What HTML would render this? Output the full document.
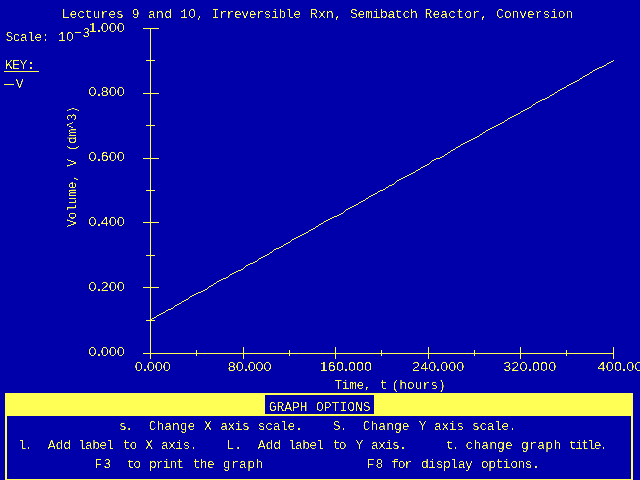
<!DOCTYPE html>
<html><head><meta charset="utf-8"><title>POLYMATH Graph</title>
<style>
html,body{margin:0;padding:0;background:#0000AA;width:640px;height:480px;overflow:hidden}
svg{display:block}
text{font-family:"Liberation Mono", "DejaVu Sans Mono", monospace;font-size:13px;fill:#FFFF55;white-space:pre}
text.n{font-family:"Liberation Sans", "DejaVu Sans", sans-serif;font-size:12.5px}
tspan.z{font-family:"Liberation Sans", "DejaVu Sans", sans-serif}
</style></head><body>
<svg width="640" height="480" viewBox="0 0 640 480">
<defs><filter id="px" filterUnits="userSpaceOnUse" x="0" y="0" width="640" height="480" color-interpolation-filters="sRGB"><feComponentTransfer><feFuncA type="table" tableValues="0 0 0 0 0 0 0.5 1 1 1 1"/></feComponentTransfer></filter></defs>
<rect x="0" y="0" width="640" height="480" fill="#0000AA"/>
<g>
<rect x="5" y="393" width="628" height="87" fill="#FFFF55"/>
<rect x="7" y="416" width="624" height="63" fill="#0000AA"/>
<rect x="265" y="395" width="109" height="19" fill="#0000AA"/>
<g fill="#FFFF55" shape-rendering="crispEdges">
<rect x="150" y="28" width="1" height="331"/>
<rect x="143" y="28" width="16" height="1"/>
<rect x="143" y="93" width="16" height="1"/>
<rect x="143" y="158" width="16" height="1"/>
<rect x="143" y="222" width="16" height="1"/>
<rect x="143" y="287" width="16" height="1"/>
<rect x="146" y="60" width="9" height="1"/>
<rect x="146" y="125" width="9" height="1"/>
<rect x="146" y="190" width="9" height="1"/>
<rect x="146" y="255" width="9" height="1"/>
<rect x="146" y="320" width="9" height="1"/>
<rect x="143" y="353" width="471" height="1"/>
<rect x="243" y="347" width="1" height="12"/>
<rect x="335" y="347" width="1" height="12"/>
<rect x="428" y="347" width="1" height="12"/>
<rect x="520" y="347" width="1" height="12"/>
<rect x="613" y="347" width="1" height="12"/>
<rect x="196" y="350" width="1" height="6"/>
<rect x="289" y="350" width="1" height="6"/>
<rect x="381" y="350" width="1" height="6"/>
<rect x="474" y="350" width="1" height="6"/>
<rect x="566" y="350" width="1" height="6"/>
<rect x="4" y="71" width="35" height="1"/>
<rect x="4" y="84" width="10" height="1"/>
</g>
<g fill="#FFFF55" shape-rendering="crispEdges"><rect x="151" y="319" width="1" height="1"/><rect x="152" y="318" width="2" height="1"/><rect x="154" y="317" width="2" height="1"/><rect x="156" y="316" width="1" height="1"/><rect x="157" y="315" width="2" height="1"/><rect x="159" y="314" width="2" height="1"/><rect x="161" y="313" width="2" height="1"/><rect x="163" y="312" width="2" height="1"/><rect x="165" y="311" width="1" height="1"/><rect x="166" y="310" width="2" height="1"/><rect x="168" y="309" width="3" height="1"/><rect x="171" y="308" width="2" height="1"/><rect x="173" y="307" width="1" height="1"/><rect x="174" y="306" width="1" height="1"/><rect x="175" y="305" width="2" height="1"/><rect x="177" y="304" width="2" height="1"/><rect x="179" y="303" width="2" height="1"/><rect x="181" y="302" width="1" height="1"/><rect x="182" y="301" width="2" height="1"/><rect x="184" y="300" width="2" height="1"/><rect x="186" y="299" width="2" height="1"/><rect x="188" y="298" width="1" height="1"/><rect x="189" y="297" width="1" height="1"/><rect x="190" y="296" width="2" height="1"/><rect x="192" y="295" width="2" height="1"/><rect x="194" y="294" width="2" height="1"/><rect x="196" y="293" width="2" height="1"/><rect x="198" y="292" width="3" height="1"/><rect x="201" y="291" width="2" height="1"/><rect x="203" y="290" width="2" height="1"/><rect x="205" y="289" width="2" height="1"/><rect x="207" y="288" width="1" height="1"/><rect x="208" y="287" width="1" height="1"/><rect x="209" y="286" width="2" height="1"/><rect x="211" y="285" width="2" height="1"/><rect x="213" y="284" width="1" height="1"/><rect x="214" y="283" width="2" height="1"/><rect x="216" y="282" width="1" height="1"/><rect x="217" y="281" width="2" height="1"/><rect x="219" y="280" width="2" height="1"/><rect x="221" y="279" width="2" height="1"/><rect x="223" y="278" width="3" height="1"/><rect x="226" y="277" width="2" height="1"/><rect x="228" y="276" width="1" height="1"/><rect x="229" y="275" width="1" height="1"/><rect x="230" y="274" width="2" height="1"/><rect x="232" y="273" width="2" height="1"/><rect x="234" y="272" width="2" height="1"/><rect x="236" y="271" width="2" height="1"/><rect x="238" y="270" width="3" height="1"/><rect x="241" y="269" width="2" height="1"/><rect x="243" y="268" width="1" height="1"/><rect x="244" y="267" width="1" height="1"/><rect x="245" y="266" width="1" height="1"/><rect x="246" y="265" width="2" height="1"/><rect x="248" y="264" width="2" height="1"/><rect x="250" y="263" width="3" height="1"/><rect x="253" y="262" width="2" height="1"/><rect x="255" y="261" width="2" height="1"/><rect x="257" y="260" width="1" height="1"/><rect x="258" y="259" width="1" height="1"/><rect x="259" y="258" width="2" height="1"/><rect x="261" y="257" width="2" height="1"/><rect x="263" y="256" width="2" height="1"/><rect x="265" y="255" width="2" height="1"/><rect x="267" y="254" width="2" height="1"/><rect x="269" y="253" width="1" height="1"/><rect x="270" y="252" width="2" height="1"/><rect x="272" y="251" width="1" height="1"/><rect x="273" y="250" width="1" height="1"/><rect x="274" y="249" width="2" height="1"/><rect x="276" y="248" width="3" height="1"/><rect x="279" y="247" width="2" height="1"/><rect x="281" y="246" width="2" height="1"/><rect x="283" y="245" width="1" height="1"/><rect x="284" y="244" width="2" height="1"/><rect x="286" y="243" width="2" height="1"/><rect x="288" y="242" width="2" height="1"/><rect x="290" y="241" width="1" height="1"/><rect x="291" y="240" width="1" height="1"/><rect x="292" y="239" width="2" height="1"/><rect x="294" y="238" width="2" height="1"/><rect x="296" y="237" width="2" height="1"/><rect x="298" y="236" width="2" height="1"/><rect x="300" y="235" width="2" height="1"/><rect x="302" y="234" width="2" height="1"/><rect x="304" y="233" width="2" height="1"/><rect x="306" y="232" width="2" height="1"/><rect x="308" y="231" width="1" height="1"/><rect x="309" y="230" width="2" height="1"/><rect x="311" y="229" width="2" height="1"/><rect x="313" y="228" width="2" height="1"/><rect x="315" y="227" width="1" height="1"/><rect x="316" y="226" width="2" height="1"/><rect x="318" y="225" width="1" height="1"/><rect x="319" y="224" width="2" height="1"/><rect x="321" y="223" width="2" height="1"/><rect x="323" y="222" width="1" height="1"/><rect x="324" y="221" width="2" height="1"/><rect x="326" y="220" width="2" height="1"/><rect x="328" y="219" width="2" height="1"/><rect x="330" y="218" width="2" height="1"/><rect x="332" y="217" width="2" height="1"/><rect x="334" y="216" width="3" height="1"/><rect x="337" y="215" width="2" height="1"/><rect x="339" y="214" width="2" height="1"/><rect x="341" y="213" width="2" height="1"/><rect x="343" y="212" width="1" height="1"/><rect x="344" y="211" width="1" height="1"/><rect x="345" y="210" width="1" height="1"/><rect x="346" y="209" width="2" height="1"/><rect x="348" y="208" width="2" height="1"/><rect x="350" y="207" width="2" height="1"/><rect x="352" y="206" width="2" height="1"/><rect x="354" y="205" width="2" height="1"/><rect x="356" y="204" width="2" height="1"/><rect x="358" y="203" width="1" height="1"/><rect x="359" y="202" width="2" height="1"/><rect x="361" y="201" width="2" height="1"/><rect x="363" y="200" width="2" height="1"/><rect x="365" y="199" width="1" height="1"/><rect x="366" y="198" width="2" height="1"/><rect x="368" y="197" width="1" height="1"/><rect x="369" y="196" width="2" height="1"/><rect x="371" y="195" width="2" height="1"/><rect x="373" y="194" width="2" height="1"/><rect x="375" y="193" width="2" height="1"/><rect x="377" y="192" width="1" height="1"/><rect x="378" y="191" width="2" height="1"/><rect x="380" y="190" width="3" height="1"/><rect x="383" y="189" width="2" height="1"/><rect x="385" y="188" width="1" height="1"/><rect x="386" y="187" width="2" height="1"/><rect x="388" y="186" width="1" height="1"/><rect x="389" y="185" width="3" height="1"/><rect x="392" y="184" width="2" height="1"/><rect x="394" y="183" width="1" height="1"/><rect x="395" y="182" width="1" height="1"/><rect x="396" y="181" width="1" height="1"/><rect x="397" y="180" width="2" height="1"/><rect x="399" y="179" width="2" height="1"/><rect x="401" y="178" width="2" height="1"/><rect x="403" y="177" width="2" height="1"/><rect x="405" y="176" width="2" height="1"/><rect x="407" y="175" width="2" height="1"/><rect x="409" y="174" width="2" height="1"/><rect x="411" y="173" width="2" height="1"/><rect x="413" y="172" width="2" height="1"/><rect x="415" y="171" width="1" height="1"/><rect x="416" y="170" width="2" height="1"/><rect x="418" y="169" width="2" height="1"/><rect x="420" y="168" width="1" height="1"/><rect x="421" y="167" width="2" height="1"/><rect x="423" y="166" width="2" height="1"/><rect x="425" y="165" width="2" height="1"/><rect x="427" y="164" width="2" height="1"/><rect x="429" y="163" width="1" height="1"/><rect x="430" y="162" width="1" height="1"/><rect x="431" y="161" width="1" height="1"/><rect x="432" y="160" width="2" height="1"/><rect x="434" y="159" width="2" height="1"/><rect x="436" y="158" width="4" height="1"/><rect x="440" y="157" width="2" height="1"/><rect x="442" y="156" width="2" height="1"/><rect x="444" y="155" width="1" height="1"/><rect x="445" y="154" width="2" height="1"/><rect x="447" y="153" width="1" height="1"/><rect x="448" y="152" width="2" height="1"/><rect x="450" y="151" width="1" height="1"/><rect x="451" y="150" width="2" height="1"/><rect x="453" y="149" width="2" height="1"/><rect x="455" y="148" width="1" height="1"/><rect x="456" y="147" width="2" height="1"/><rect x="458" y="146" width="2" height="1"/><rect x="460" y="145" width="1" height="1"/><rect x="461" y="144" width="2" height="1"/><rect x="463" y="143" width="2" height="1"/><rect x="465" y="142" width="2" height="1"/><rect x="467" y="141" width="2" height="1"/><rect x="469" y="140" width="2" height="1"/><rect x="471" y="139" width="2" height="1"/><rect x="473" y="138" width="2" height="1"/><rect x="475" y="137" width="2" height="1"/><rect x="477" y="136" width="2" height="1"/><rect x="479" y="135" width="1" height="1"/><rect x="480" y="134" width="2" height="1"/><rect x="482" y="133" width="1" height="1"/><rect x="483" y="132" width="2" height="1"/><rect x="485" y="131" width="1" height="1"/><rect x="486" y="130" width="2" height="1"/><rect x="488" y="129" width="2" height="1"/><rect x="490" y="128" width="2" height="1"/><rect x="492" y="127" width="2" height="1"/><rect x="494" y="126" width="2" height="1"/><rect x="496" y="125" width="2" height="1"/><rect x="498" y="124" width="2" height="1"/><rect x="500" y="123" width="2" height="1"/><rect x="502" y="122" width="2" height="1"/><rect x="504" y="121" width="1" height="1"/><rect x="505" y="120" width="2" height="1"/><rect x="507" y="119" width="1" height="1"/><rect x="508" y="118" width="2" height="1"/><rect x="510" y="117" width="2" height="1"/><rect x="512" y="116" width="2" height="1"/><rect x="514" y="115" width="2" height="1"/><rect x="516" y="114" width="2" height="1"/><rect x="518" y="113" width="2" height="1"/><rect x="520" y="112" width="1" height="1"/><rect x="521" y="111" width="2" height="1"/><rect x="523" y="110" width="2" height="1"/><rect x="525" y="109" width="2" height="1"/><rect x="527" y="108" width="2" height="1"/><rect x="529" y="107" width="2" height="1"/><rect x="531" y="106" width="1" height="1"/><rect x="532" y="105" width="1" height="1"/><rect x="533" y="104" width="2" height="1"/><rect x="535" y="103" width="1" height="1"/><rect x="536" y="102" width="2" height="1"/><rect x="538" y="101" width="2" height="1"/><rect x="540" y="100" width="2" height="1"/><rect x="542" y="99" width="3" height="1"/><rect x="545" y="98" width="2" height="1"/><rect x="547" y="97" width="2" height="1"/><rect x="549" y="96" width="1" height="1"/><rect x="550" y="95" width="2" height="1"/><rect x="552" y="94" width="2" height="1"/><rect x="554" y="93" width="1" height="1"/><rect x="555" y="92" width="2" height="1"/><rect x="557" y="91" width="1" height="1"/><rect x="558" y="90" width="2" height="1"/><rect x="560" y="89" width="2" height="1"/><rect x="562" y="88" width="2" height="1"/><rect x="564" y="87" width="2" height="1"/><rect x="566" y="86" width="1" height="1"/><rect x="567" y="85" width="2" height="1"/><rect x="569" y="84" width="2" height="1"/><rect x="571" y="83" width="2" height="1"/><rect x="573" y="82" width="2" height="1"/><rect x="575" y="81" width="2" height="1"/><rect x="577" y="80" width="2" height="1"/><rect x="579" y="79" width="1" height="1"/><rect x="580" y="78" width="2" height="1"/><rect x="582" y="77" width="1" height="1"/><rect x="583" y="76" width="2" height="1"/><rect x="585" y="75" width="2" height="1"/><rect x="587" y="74" width="2" height="1"/><rect x="589" y="73" width="1" height="1"/><rect x="590" y="72" width="2" height="1"/><rect x="592" y="71" width="1" height="1"/><rect x="593" y="70" width="2" height="1"/><rect x="595" y="69" width="2" height="1"/><rect x="597" y="68" width="2" height="1"/><rect x="599" y="67" width="3" height="1"/><rect x="602" y="66" width="2" height="1"/><rect x="604" y="65" width="2" height="1"/><rect x="606" y="64" width="1" height="1"/><rect x="607" y="63" width="2" height="1"/><rect x="609" y="62" width="2" height="1"/><rect x="611" y="61" width="2" height="1"/><rect x="613" y="60" width="1" height="1"/></g>
</g>
<g filter="url(#px)">
<text x="61.80" y="18" textLength="62.10" lengthAdjust="spacing">Lectures</text>
<text x="131.75" y="18">9</text>
<text x="148.00" y="18" textLength="24.00" lengthAdjust="spacing">and</text>
<text x="180.25" y="18" textLength="23.75" lengthAdjust="spacing">1<tspan class="z">0</tspan>,</text>
<text x="211.75" y="18" textLength="89.25" lengthAdjust="spacing">Irreversible</text>
<text x="310.00" y="18" textLength="31.77" lengthAdjust="spacing">Rxn,</text>
<text x="350.00" y="18" textLength="67.90" lengthAdjust="spacing">Semibatch</text>
<text x="424.50" y="18" textLength="63.33" lengthAdjust="spacing">Reactor,</text>
<text x="496.20" y="18" textLength="77.10" lengthAdjust="spacing">Conversion</text>
<text x="5.60" y="41" textLength="43.60" lengthAdjust="spacing">Scale:</text>
<text x="57.75" y="41" textLength="15.85" lengthAdjust="spacing">1<tspan class="z">0</tspan></text>
<text x="4.90" y="69" textLength="29.83" lengthAdjust="spacing">KEY:</text>
<text x="15.80" y="88">V</text>
<text x="334.25" y="389" textLength="37.35" lengthAdjust="spacing">Time,</text>
<text x="379.80" y="389">t</text>
<text x="391.40" y="389" textLength="54.43" lengthAdjust="spacing">(hours)</text>
<text x="268.75" y="411" textLength="38.90" lengthAdjust="spacing">GRAPH</text>
<text x="315.90" y="411" textLength="54.70" lengthAdjust="spacing">OPTIONS</text>
<text x="118.90" y="430" textLength="14.10" lengthAdjust="spacing">s.</text>
<text x="148.75" y="430" textLength="46.45" lengthAdjust="spacing">Change</text>
<text x="204.00" y="430">X</text>
<text x="220.25" y="430" textLength="29.50" lengthAdjust="spacing">axis</text>
<text x="257.75" y="430" textLength="45.15" lengthAdjust="spacing">scale.</text>
<text x="332.75" y="430" textLength="14.45" lengthAdjust="spacing">S.</text>
<text x="362.75" y="430" textLength="46.80" lengthAdjust="spacing">Change</text>
<text x="418.75" y="430">Y</text>
<text x="434.00" y="430" textLength="30.10" lengthAdjust="spacing">axis</text>
<text x="472.10" y="430" textLength="44.40" lengthAdjust="spacing">scale.</text>
<text x="18.50" y="449" textLength="13.75" lengthAdjust="spacing">l.</text>
<text x="47.75" y="449" textLength="23.25" lengthAdjust="spacing">Add</text>
<text x="78.00" y="449" textLength="36.10" lengthAdjust="spacing">label</text>
<text x="122.75" y="449" textLength="14.50" lengthAdjust="spacing">to</text>
<text x="145.25" y="449">X</text>
<text x="160.90" y="449" textLength="36.60" lengthAdjust="spacing">axis.</text>
<text x="226.50" y="449" textLength="15.50" lengthAdjust="spacing">L.</text>
<text x="257.75" y="449" textLength="23.25" lengthAdjust="spacing">Add</text>
<text x="288.00" y="449" textLength="36.10" lengthAdjust="spacing">label</text>
<text x="332.75" y="449" textLength="13.85" lengthAdjust="spacing">to</text>
<text x="355.60" y="449">Y</text>
<text x="370.90" y="449" textLength="35.85" lengthAdjust="spacing">axis.</text>
<text x="446.00" y="449" textLength="13.60" lengthAdjust="spacing">t.</text>
<text x="465.60" y="449" textLength="47.10" lengthAdjust="spacing">change</text>
<text x="520.90" y="449" textLength="40.35" lengthAdjust="spacing">graph</text>
<text x="569.00" y="449" textLength="38.60" lengthAdjust="spacing">title.</text>
<text x="94.60" y="468" textLength="16.40" lengthAdjust="spacing">F3</text>
<text x="127.10" y="468" textLength="13.90" lengthAdjust="spacing">to</text>
<text x="149.00" y="468" textLength="35.10" lengthAdjust="spacing">print</text>
<text x="192.75" y="468" textLength="22.00" lengthAdjust="spacing">the</text>
<text x="222.75" y="468" textLength="40.45" lengthAdjust="spacing">graph</text>
<text x="366.75" y="468" textLength="16.50" lengthAdjust="spacing">F8</text>
<text x="390.90" y="468" textLength="21.35" lengthAdjust="spacing">for</text>
<text x="420.90" y="468" textLength="52.00" lengthAdjust="spacing">display</text>
<text x="480.90" y="468" textLength="58.99" lengthAdjust="spacing">options.</text>
<g transform="translate(88.70,32) scale(1.15,1)"><text class="n" x="0" y="0" textLength="31.30" lengthAdjust="spacing">1<tspan font-weight="bold">.</tspan>000</text></g>
<g transform="translate(88.60,96) scale(1.15,1)"><text class="n" x="0" y="0" textLength="31.52" lengthAdjust="spacing">0<tspan font-weight="bold">.</tspan>800</text></g>
<g transform="translate(88.60,161) scale(1.15,1)"><text class="n" x="0" y="0" textLength="31.52" lengthAdjust="spacing">0<tspan font-weight="bold">.</tspan>600</text></g>
<g transform="translate(88.60,226) scale(1.15,1)"><text class="n" x="0" y="0" textLength="31.52" lengthAdjust="spacing">0<tspan font-weight="bold">.</tspan>400</text></g>
<g transform="translate(88.60,291) scale(1.15,1)"><text class="n" x="0" y="0" textLength="31.52" lengthAdjust="spacing">0<tspan font-weight="bold">.</tspan>200</text></g>
<g transform="translate(88.60,356) scale(1.15,1)"><text class="n" x="0" y="0" textLength="31.52" lengthAdjust="spacing">0<tspan font-weight="bold">.</tspan>000</text></g>
<g transform="translate(134.80,371) scale(1.15,1)"><text class="n" x="0" y="0" textLength="31.26" lengthAdjust="spacing">0<tspan font-weight="bold">.</tspan>000</text></g>
<g transform="translate(227.70,371) scale(1.15,1)"><text class="n" x="0" y="0" textLength="38.17" lengthAdjust="spacing">80<tspan font-weight="bold">.</tspan>000</text></g>
<g transform="translate(319.80,371) scale(1.15,1)"><text class="n" x="0" y="0" textLength="45.48" lengthAdjust="spacing">160<tspan font-weight="bold">.</tspan>000</text></g>
<g transform="translate(412.10,371) scale(1.15,1)"><text class="n" x="0" y="0" textLength="45.42" lengthAdjust="spacing">240<tspan font-weight="bold">.</tspan>000</text></g>
<g transform="translate(503.20,371) scale(1.15,1)"><text class="n" x="0" y="0" textLength="46.12" lengthAdjust="spacing">320<tspan font-weight="bold">.</tspan>000</text></g>
<g transform="translate(597.60,371) scale(1.15,1)"><text class="n" x="0" y="0" textLength="46.12" lengthAdjust="spacing">400<tspan font-weight="bold">.</tspan>000</text></g>
<text x="73.75" y="37" textLength="16.35" lengthAdjust="spacing">−3</text>
<text transform="translate(76,227.00) rotate(-90)" x="0" y="0" textLength="121.00" lengthAdjust="spacing">Volume, V (dm^3)</text>
</g>
</svg>
</body></html>
